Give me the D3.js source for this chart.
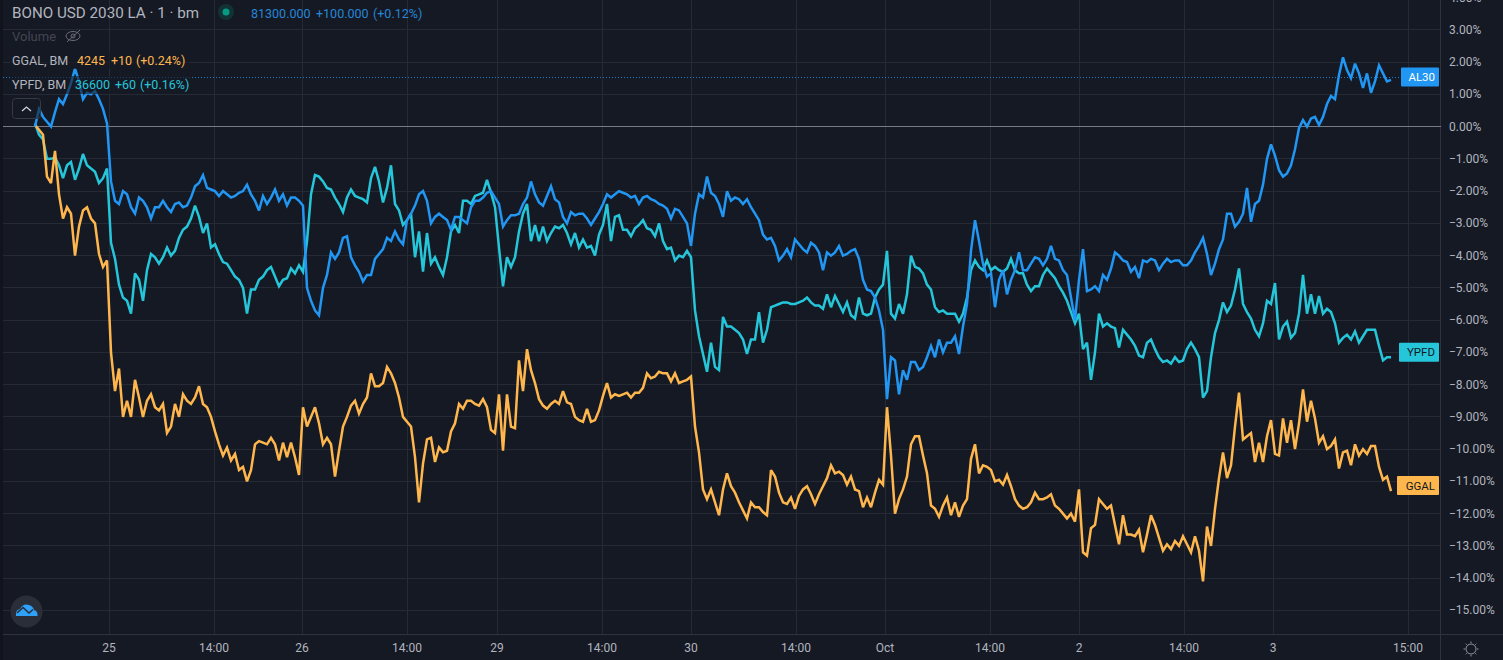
<!DOCTYPE html>
<html><head><meta charset="utf-8">
<script src="https://cdn.jsdelivr.net/npm/d3@7/dist/d3.min.js"></script>
<style>
html,body{margin:0;padding:0;background:#151924;overflow:hidden}
svg{display:block}
text{font-family:Roboto,"Liberation Sans",sans-serif}
</style></head><body>
<script>
// Percent change per sample
const al30 = [
0.0,0.55,0.3,0.15,0.0,0.45,0.85,0.7,1.0,1.35,
1.8,1.4,0.85,1.05,1.0,1.1,0.85,0.55,0.1,-1.7,
-2.3,-2.4,-2.0,-2.1,-2.5,-2.7,-2.2,-2.3,-2.5,-2.85,
-2.5,-2.5,-2.3,-2.5,-2.65,-2.4,-2.35,-2.5,-2.45,-2.2,
-1.85,-1.75,-1.5,-1.9,-1.95,-2.0,-2.15,-2.0,-2.1,-2.2,
-2.15,-2.05,-2.0,-1.8,-2.1,-2.3,-2.6,-2.15,-2.4,-2.2,
-1.95,-2.3,-2.1,-2.45,-2.2,-2.2,-2.3,-2.45,-5.0,-5.4,
-5.7,-5.85,-5.0,-4.6,-3.9,-4.1,-3.9,-3.45,-3.4,-4.05,
-4.3,-4.5,-4.8,-4.6,-4.6,-4.1,-3.95,-3.8,-3.45,-3.55,
-3.25,-3.5,-3.65,-2.9,-2.7,-2.45,-2.1,-2.0,-2.3,-3.0,
-2.8,-2.7,-2.8,-2.9,-3.2,-2.8,-2.8,-2.9,-3.0,-2.5,
-2.3,-2.3,-2.2,-2.05,-2.0,-2.2,-2.4,-3.1,-2.9,-2.75,
-2.75,-2.7,-2.4,-2.2,-1.7,-2.1,-2.35,-2.45,-2.15,-1.85,
-2.25,-2.35,-2.8,-3.0,-2.65,-2.75,-2.7,-2.7,-2.85,-3.05,
-2.85,-2.65,-2.4,-2.1,-2.2,-2.1,-2.0,-2.05,-2.1,-2.2,
-2.15,-2.4,-2.2,-2.15,-2.25,-2.3,-2.4,-2.45,-2.55,-2.85,
-2.55,-2.6,-2.8,-3.0,-3.7,-2.7,-2.1,-2.2,-1.55,-2.05,
-2.15,-2.4,-2.8,-2.0,-2.3,-2.2,-2.25,-2.4,-2.25,-2.5,
-2.7,-2.9,-3.35,-3.5,-3.45,-3.7,-4.15,-4.0,-3.8,-4.05,
-3.5,-3.65,-3.8,-3.9,-3.6,-3.7,-3.9,-4.45,-3.9,-4.0,
-3.9,-3.7,-4.0,-3.95,-3.85,-3.8,-4.1,-4.75,-5.05,-5.1,
-5.3,-5.7,-6.3,-8.45,-7.15,-7.25,-8.3,-7.55,-7.85,-7.3,
-7.3,-7.55,-7.45,-7.15,-6.8,-7.15,-6.6,-7.0,-6.7,-6.7,
-6.5,-7.05,-6.2,-5.5,-3.85,-2.9,-3.55,-4.25,-4.65,-4.55,
-5.6,-4.75,-4.45,-5.2,-4.75,-4.45,-3.9,-4.45,-4.45,-4.25,
-4.05,-4.1,-4.3,-4.1,-3.7,-4.1,-4.15,-4.45,-4.6,-5.3,
-6.0,-4.75,-3.8,-5.1,-5.05,-4.95,-5.1,-4.6,-4.75,-4.4,
-3.9,-4.0,-4.15,-4.2,-4.5,-4.35,-4.7,-4.15,-4.2,-4.1,
-4.15,-4.45,-4.25,-4.1,-4.2,-4.15,-4.15,-4.3,-4.3,-4.15,
-3.9,-3.7,-3.45,-3.95,-4.6,-4.25,-3.8,-3.5,-2.7,-2.7,
-3.1,-2.95,-2.7,-1.9,-2.95,-2.4,-2.3,-1.8,-1.0,-0.55,
-0.9,-1.35,-1.55,-1.45,-1.2,-0.7,-0.05,0.2,0.0,0.25,
0.3,0.05,0.3,0.7,0.95,0.85,1.6,2.15,1.75,1.5,
1.95,1.65,1.2,1.65,1.05,1.4,1.9,1.65,1.4,1.45];
const ypfd = [
0.1,-0.25,-0.4,-1.0,-1.0,-0.95,-1.2,-1.6,-1.2,-1.1,
-1.65,-1.3,-0.85,-1.2,-1.3,-1.4,-1.75,-1.6,-1.3,-3.6,
-4.1,-4.9,-5.3,-5.4,-5.8,-4.55,-4.75,-5.4,-4.45,-3.95,
-4.05,-4.25,-4.05,-3.75,-4.0,-3.85,-3.45,-3.2,-3.1,-2.85,
-2.45,-2.8,-3.3,-3.0,-3.75,-3.65,-3.95,-4.2,-4.25,-4.45,
-4.65,-4.75,-5.0,-5.8,-5.05,-5.05,-4.75,-4.65,-4.45,-4.35,
-4.65,-4.95,-4.75,-4.7,-4.4,-4.55,-4.3,-4.5,-3.55,-2.1,
-1.5,-1.55,-1.7,-1.9,-1.95,-2.2,-2.4,-2.65,-2.2,-1.95,
-2.15,-2.2,-2.25,-2.35,-1.6,-1.25,-1.7,-2.35,-1.9,-1.2,
-2.4,-2.6,-3.05,-2.9,-2.7,-4.05,-3.25,-4.5,-3.3,-4.25,
-4.05,-4.35,-4.6,-4.05,-3.25,-3.05,-3.3,-2.3,-2.3,-2.4,
-2.15,-2.1,-2.05,-1.65,-2.05,-2.5,-3.75,-4.95,-4.05,-4.35,
-4.05,-3.25,-2.7,-2.4,-3.55,-3.05,-3.55,-3.1,-3.55,-3.3,
-3.1,-3.15,-3.05,-3.3,-3.65,-3.3,-3.75,-3.5,-3.75,-3.7,
-4.0,-3.35,-3.05,-2.4,-3.55,-2.8,-2.75,-3.2,-3.2,-3.4,
-3.15,-3.05,-2.9,-3.15,-3.2,-3.4,-3.0,-3.55,-3.8,-3.75,
-4.15,-4.0,-4.05,-3.85,-4.05,-5.7,-6.5,-7.05,-7.6,-6.7,
-7.45,-7.55,-5.9,-6.2,-6.2,-6.3,-6.4,-6.6,-7.05,-6.6,
-6.6,-5.75,-6.7,-6.3,-5.6,-5.55,-5.5,-5.45,-5.45,-5.5,
-5.5,-5.45,-5.4,-5.3,-5.45,-5.55,-5.55,-5.65,-5.2,-5.6,
-5.25,-5.5,-5.75,-5.45,-5.85,-5.95,-5.3,-5.8,-5.85,-5.8,
-5.3,-5.05,-4.9,-3.85,-5.8,-5.95,-5.5,-5.8,-5.2,-4.0,
-4.35,-4.4,-4.55,-4.9,-5.05,-5.6,-5.75,-5.7,-5.8,-5.8,
-5.8,-6.05,-5.8,-5.3,-4.45,-4.15,-4.35,-4.45,-4.15,-4.45,
-4.35,-4.45,-4.5,-4.4,-4.1,-4.45,-4.55,-4.55,-4.9,-5.1,
-4.95,-4.95,-4.6,-4.4,-4.55,-4.7,-4.95,-5.15,-5.4,-5.75,
-6.1,-5.8,-6.9,-6.7,-7.85,-7.0,-5.8,-6.2,-6.1,-6.2,
-6.25,-6.85,-6.3,-6.45,-6.6,-6.8,-7.1,-7.15,-6.7,-6.6,
-6.9,-7.15,-7.3,-7.25,-7.35,-7.15,-7.3,-7.25,-6.9,-6.7,
-6.9,-7.15,-8.4,-8.2,-7.15,-6.4,-6.0,-5.45,-5.75,-5.55,
-5.05,-4.4,-5.5,-5.75,-5.95,-6.3,-6.5,-6.1,-5.4,-5.5,
-4.85,-6.6,-6.2,-6.05,-6.55,-6.4,-5.8,-4.6,-5.8,-5.2,
-5.8,-5.25,-5.8,-5.65,-5.75,-6.1,-6.7,-6.55,-6.45,-6.6,
-6.35,-6.7,-6.5,-6.3,-6.3,-6.3,-6.8,-7.25,-7.15,-7.15];
const ggal = [
0.05,-0.1,-0.25,-1.55,-1.75,-0.75,-2.1,-2.85,-2.5,-2.7,
-4.0,-3.1,-2.6,-2.5,-2.85,-3.0,-3.95,-4.35,-4.15,-7.0,
-8.2,-7.5,-9.0,-8.5,-9.0,-7.85,-8.4,-9.0,-8.5,-8.3,
-8.7,-8.8,-8.6,-9.5,-9.3,-8.6,-9.0,-8.3,-8.5,-8.6,
-8.4,-8.05,-8.6,-8.7,-9.0,-9.45,-9.85,-10.2,-9.95,-10.35,
-10.15,-10.65,-10.55,-11.0,-10.65,-9.85,-9.75,-9.8,-9.85,-9.65,
-9.85,-10.35,-9.8,-10.25,-9.8,-10.25,-10.8,-8.7,-9.3,-9.0,
-8.7,-9.2,-9.85,-9.65,-9.85,-10.85,-10.05,-9.3,-9.0,-8.65,
-8.5,-8.9,-8.6,-8.4,-7.65,-8.05,-8.05,-7.95,-7.45,-7.65,
-7.95,-8.4,-9.0,-9.15,-9.3,-10.25,-11.65,-10.45,-9.7,-9.65,
-10.4,-9.95,-10.1,-10.05,-9.45,-9.2,-8.6,-8.75,-8.5,-8.5,
-8.6,-8.65,-8.45,-8.7,-9.4,-9.5,-8.3,-10.05,-8.3,-9.3,
-9.35,-7.25,-8.2,-6.9,-7.55,-7.95,-8.45,-8.65,-8.75,-8.6,
-8.5,-8.6,-8.2,-8.55,-8.6,-9.0,-9.1,-9.15,-8.75,-9.15,
-9.1,-8.8,-8.35,-7.95,-8.4,-8.3,-8.35,-8.3,-8.25,-8.4,
-8.25,-8.25,-8.1,-7.65,-7.8,-7.75,-7.6,-7.65,-7.65,-7.9,
-7.65,-7.95,-7.9,-7.85,-7.75,-9.3,-10.1,-11.25,-11.55,-11.25,
-11.65,-12.05,-11.25,-10.75,-11.15,-11.35,-11.65,-11.9,-12.15,-11.65,
-11.8,-11.8,-11.95,-12.05,-10.65,-10.85,-11.35,-11.65,-11.7,-11.5,
-11.85,-11.45,-11.25,-11.15,-11.4,-11.7,-11.4,-11.15,-10.9,-10.5,
-10.75,-10.7,-10.8,-11.1,-10.85,-11.25,-11.3,-11.8,-11.5,-11.8,
-11.35,-10.95,-11.1,-8.7,-10.2,-12.0,-11.55,-11.25,-10.85,-9.85,
-9.6,-9.6,-10.2,-10.75,-11.75,-11.85,-12.1,-11.75,-11.5,-12.05,
-11.65,-12.1,-11.75,-11.55,-10.3,-9.85,-10.75,-10.5,-10.55,-10.65,
-11.0,-10.95,-11.1,-10.8,-11.15,-11.55,-11.75,-11.85,-11.8,-11.65,
-11.35,-11.55,-11.55,-11.5,-11.4,-11.75,-11.85,-12.0,-12.15,-12.0,
-12.25,-11.25,-13.2,-13.3,-12.45,-12.35,-11.55,-11.7,-11.85,-11.75,
-12.35,-12.95,-12.05,-12.65,-12.65,-12.7,-12.5,-13.2,-12.65,-12.05,
-12.35,-12.75,-13.15,-12.95,-13.1,-12.85,-13.0,-12.7,-12.95,-13.2,
-12.7,-13.15,-14.1,-12.4,-13.0,-11.85,-10.9,-10.1,-10.9,-10.5,
-9.3,-8.25,-9.7,-9.6,-9.5,-10.4,-9.8,-10.4,-9.6,-9.1,
-10.15,-10.2,-9.05,-9.8,-9.1,-10.0,-9.2,-8.15,-9.15,-8.5,
-9.05,-9.8,-9.6,-10.0,-9.9,-9.7,-10.6,-10.1,-10.05,-10.5,
-9.85,-10.2,-10.0,-10.15,-9.9,-9.9,-10.55,-10.95,-10.85,-11.3];
const timeLabels = ["25","14:00","26","14:00","29","14:00","30","14:00","Oct","14:00","2","14:00","3","15:00"];
const timeBars = [18.5,44.75,66.75,93,115.5,141.75,164,190.25,212.5,238.75,261,287.25,309.5,343.25];
const yTicks = [4,3,2,1,0,-1,-2,-3,-4,-5,-6,-7,-8,-9,-10,-11,-12,-13,-14,-15];
const lastPct = {al30:1.54, ypfd:-7.0, ggal:-11.13};

const W=1503,H=660, BG="#151924", GRID="#262a35", TXT="#b2b5be";
const BLUE="#2196f3", CYAN="#26c6da", ORANGE="#ffb74d";
const svg=d3.select("body").append("svg").attr("width",W).attr("height",H);
svg.append("rect").attr("width",W).attr("height",H).attr("fill",BG);
svg.append("rect").attr("width",3).attr("height",H).attr("fill","#11141d");

const x=d3.scaleLinear().domain([0,339]).range([35,1391]);
const y=d3.scaleLinear().domain([0,-15]).range([126.6,610.4]);
const plotL=3, plotR=1440.5, plotB=634;

// grid
const g=svg.append("g").attr("shape-rendering","crispEdges");
g.selectAll(".h").data(yTicks.filter(d=>d!==0)).join("line")
 .attr("x1",plotL).attr("x2",plotR).attr("y1",d=>Math.floor(y(d))+.5).attr("y2",d=>Math.floor(y(d))+.5).attr("stroke",GRID);
g.selectAll(".v").data(timeBars).join("line")
 .attr("x1",d=>Math.round(x(d))+.5).attr("x2",d=>Math.round(x(d))+.5).attr("y1",0).attr("y2",plotB).attr("stroke",GRID);
g.append("line").attr("x1",plotL).attr("x2",W).attr("y1",plotB+.5).attr("y2",plotB+.5).attr("stroke","#2f333e");
g.append("line").attr("x1",plotR).attr("x2",plotR).attr("y1",0).attr("y2",H).attr("stroke","#2f333e");
g.append("line").attr("x1",plotL).attr("x2",plotR).attr("y1",Math.floor(y(0))+.5).attr("y2",Math.floor(y(0))+.5).attr("stroke","#787b86");

// series
const line=d3.line().x((d,i)=>x(i)).y(d=>y(d)).curve(d3.curveLinear);
[[ypfd,CYAN],[ggal,ORANGE],[al30,BLUE]].forEach(([s,c])=>{
  svg.append("path").datum(s).attr("d",line).attr("fill","none").attr("stroke",c).attr("stroke-width",2.5).attr("stroke-linejoin","miter").attr("stroke-miterlimit",3);
});

// last value dotted line
svg.append("line").attr("x1",plotL).attr("x2",1401).attr("y1",Math.round(y(lastPct.al30))+.5).attr("y2",Math.round(y(lastPct.al30))+.5)
 .attr("stroke",BLUE).attr("stroke-dasharray","1 2").attr("opacity",.8);

// y axis labels
svg.selectAll(".yl").data(yTicks).join("text").attr("x",1449).attr("y",d=>y(d)+4).attr("font-size",12).attr("fill",TXT)
 .text(d=>(d<0?"\u2212":"")+Math.abs(d).toFixed(2)+"%");
// x axis labels
svg.selectAll(".xl").data(timeBars).join("text").attr("x",d=>x(d)).attr("y",652).attr("text-anchor","middle").attr("font-size",12).attr("fill",TXT)
 .text((d,i)=>timeLabels[i]);

// price tags
[["AL30",BLUE,"#fff",lastPct.al30,1401],["YPFD",CYAN,"#131722",lastPct.ypfd,1399],["GGAL",ORANGE,"#131722",lastPct.ggal,1397]].forEach(([t,c,tc,v,lx])=>{
  const cy=y(v);
  svg.append("rect").attr("x",lx).attr("y",cy-9.5).attr("width",1439-lx).attr("height",19).attr("rx",1).attr("fill",c);
  svg.append("text").attr("x",1435).attr("y",cy+4).attr("text-anchor","end").attr("font-size",11.5).attr("fill",tc).text(t);
});

// legend
const tx=(t,xx,yy,fs,c)=>svg.append("text").attr("x",xx).attr("y",yy).attr("font-size",fs).attr("fill",c).text(t);
tx("BONO USD 2030 LA \u00b7 1 \u00b7 bm",12,18,15.2,TXT);
svg.append("circle").attr("cx",226).attr("cy",12).attr("r",8).attr("fill","#089981").attr("opacity",.2);
svg.append("circle").attr("cx",226).attr("cy",12).attr("r",3.5).attr("fill","#089981");
tx("81300.000",251,18,12.5,"#2587d6");tx("+100.000",316,18,12.5,"#2587d6");tx("(+0.12%)",373,18,12.5,"#2587d6");
tx("Volume",12,41,13,"#434651");
const eye=svg.append("g").attr("transform","translate(73,36)").attr("fill","none").attr("stroke","#6a6d78").attr("stroke-width",1);
eye.append("ellipse").attr("rx",7).attr("ry",4.5);
eye.append("circle").attr("r",2);
eye.append("line").attr("x1",-6).attr("y1",6).attr("x2",7).attr("y2",-6);

[[51,69],[76,94]].forEach(([a,b])=>svg.append("rect").attr("x",10).attr("y",a).attr("width",180).attr("height",b-a).attr("fill",BG).attr("opacity",.6));
tx("GGAL, BM",12,65,12.5,TXT);
tx("4245",77,65,12.5,ORANGE);tx("+10",111,65,12.5,ORANGE);tx("(+0.24%)",136,65,12.5,ORANGE);
tx("YPFD, BM",12,89,12.5,TXT);
tx("36600",75,89,12.5,CYAN);tx("+60",115,89,12.5,CYAN);tx("(+0.16%)",140,89,12.5,CYAN);
svg.append("rect").attr("x",12.5).attr("y",98.5).attr("width",28).attr("height",20).attr("rx",3).attr("fill",BG).attr("fill-opacity",.6).attr("stroke","#363a45");
svg.append("path").attr("d","M22 111 L26.5 107 L31 111").attr("fill","none").attr("stroke","#d1d4dc").attr("stroke-width",1.3);

// logo
svg.append("circle").attr("cx",26.5).attr("cy",611.5).attr("r",16).attr("fill","#2a2e39");
svg.append("path").attr("d","M16 616 Q15 610 20 609 Q23 603 29 605 Q33 606 34 610 Q38 611 37.5 616 Z").attr("fill","#2ea1f8");
svg.append("path").attr("d","M17 613 L23 607.5 L29 613 L33 609.5").attr("fill","none").attr("stroke","#2a2e39").attr("stroke-width",1.6);

// sun icon
const sun=svg.append("g").attr("transform","translate(1471,649)").attr("fill","none").attr("stroke","#9598a1");
sun.append("circle").attr("r",5);
d3.range(8).forEach(k=>{const a=k*Math.PI/4;sun.append("line").attr("x1",6*Math.cos(a)).attr("y1",6*Math.sin(a)).attr("x2",7.5*Math.cos(a)).attr("y2",7.5*Math.sin(a));});
</script></body></html>
